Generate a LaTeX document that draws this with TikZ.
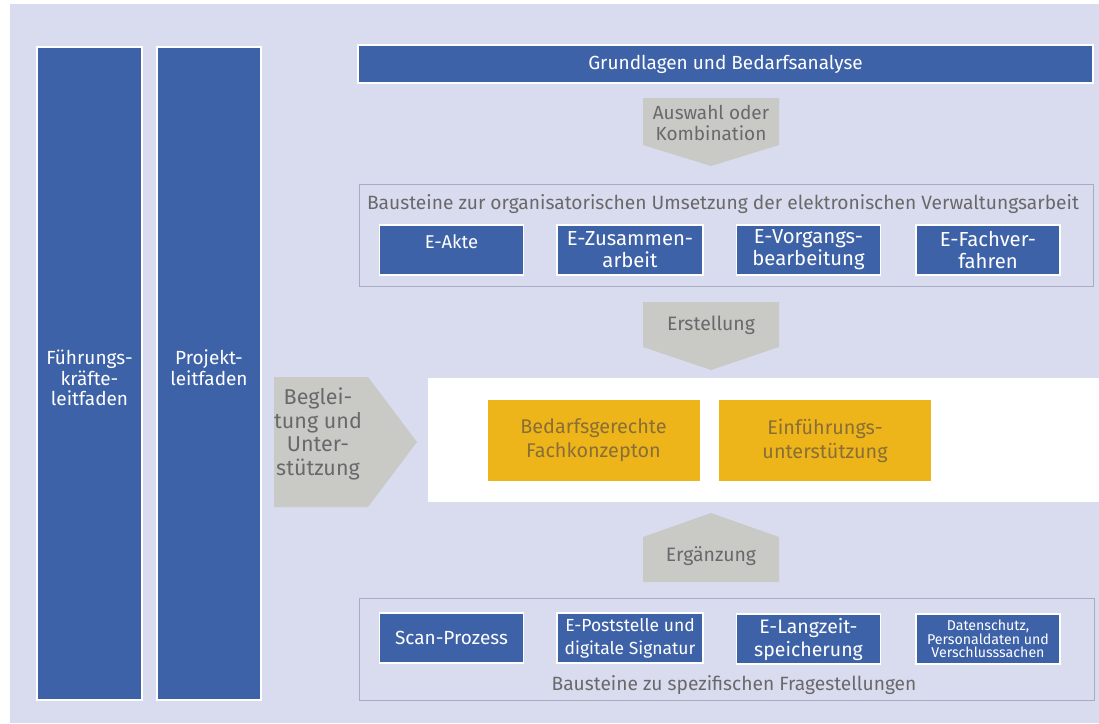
\documentclass[tikz,border=0pt]{standalone}
\usepackage{fontspec}
\setmainfont{Fira Sans}
\definecolor{bg}{HTML}{D9DCEE}
\definecolor{bblue}{HTML}{3E62A8}
\definecolor{agray}{HTML}{C9C9C6}
\definecolor{orng}{HTML}{EDB51A}
\definecolor{otext}{HTML}{8A6E38}
\definecolor{gtext}{HTML}{69696B}
\definecolor{frame}{HTML}{A9ABC2}
\newcommand{\fsz}[2]{\fontsize{#1pt}{#2pt}\selectfont}
\tikzset{
  bluebox/.style={fill=bblue, draw=white, line width=1.2pt, inner sep=0pt, text=white, align=center},
  orangebox/.style={fill=orng, draw=none, inner sep=0pt, text=otext, align=center},
  graytxt/.style={text=gtext, align=center, inner sep=0pt},
  whitetxt/.style={text=white, align=center, inner sep=0pt},
  container/.style={draw=frame, line width=0.9pt, fill=none, inner sep=0pt},
  blockarrow/.style={fill=agray, draw=none},
}
\begin{document}
\begin{tikzpicture}[x=1pt,y=-1pt]
\useasboundingbox (0,0) rectangle (1099,723);
\fill[white] (0,0) rectangle (1099,723);
\fill[bg] (10,4) rectangle (1099,723);

% left bars
\node[bluebox, minimum width=105pt, minimum height=653pt] (fk) at (89.5,373.5) {};
\node[bluebox, minimum width=104pt, minimum height=653pt] (pl) at (209,373.5) {};
\node[whitetxt, font=\fsz{19}{20.5}] (fkt) at (89.5,378) {Führungs-\\kräfte-\\leitfaden};
\node[whitetxt, font=\fsz{19}{20.5}] (plt) at (209,367.5) {Projekt-\\leitfaden};

% top bar
\node[bluebox, minimum width=735pt, minimum height=38pt, font=\fsz{19}{20}] (gb) at (725.5,64) {Grundlagen und Bedarfsanalyse};

% Auswahl arrow
\fill[blockarrow] (643,98) -- (779,98) -- (779,145) -- (711,166) -- (643,145) -- cycle;
\node[graytxt, font=\fsz{19}{21}] (aw) at (711,123) {Auswahl oder\\Kombination};

% top container
\node[container, minimum width=734pt, minimum height=102pt] (tc) at (726,235) {};
\node[graytxt, font=\fsz{19.2}{20}] (tcl) at (723,204) {Bausteine zur organisatorischen Umsetzung der elektronischen Verwaltungsarbeit};
\node[bluebox, minimum width=144pt, minimum height=50pt] (ea) at (451.5,250) {};
\node[whitetxt, font=\fsz{18.5}{22}] (eat) at (451.5,242) {E-Akte};
\node[bluebox, minimum width=146pt, minimum height=50pt, font=\fsz{20.3}{22}] (ez) at (630,250) {E-Zusammen-\\arbeit};
\node[bluebox, minimum width=144pt, minimum height=50pt, font=\fsz{20.3}{22}] (ev) at (808.5,250) {E-Vorgangs-\\bearbeitung};
\node[bluebox, minimum width=144pt, minimum height=50pt, font=\fsz{20.3}{22}] (ef) at (988,250) {E-Fachver-\\fahren};

% Erstellung arrow
\fill[blockarrow] (643,302) -- (779,302) -- (779,347) -- (711,370) -- (643,347) -- cycle;
\node[graytxt, font=\fsz{19.4}{20}] (er) at (711,325) {Erstellung};

% white band
\fill[white] (428,378) rectangle (1099,502);
\node[orangebox, minimum width=212pt, minimum height=81pt, font=\fsz{19.8}{24}] (bf) at (593.5,440.5) {Bedarfsgerechte\\Fachkonzepton};
\node[orangebox, minimum width=212pt, minimum height=81pt, font=\fsz{19.8}{24}] (eu) at (825,440.5) {Einführungs-\\unterstützung};

% Begleitung arrow
\fill[blockarrow] (274,377) -- (368,377) -- (417,442) -- (368,507) -- (274,507) -- cycle;
\node[graytxt, font=\fsz{21.5}{23.5}] (bg) at (318,434) {Beglei-\\tung und\\Unter-\\stützung};

% Ergaenzung arrow
\fill[blockarrow] (711,513) -- (779,537) -- (779,582) -- (643,582) -- (643,537) -- cycle;
\node[graytxt, font=\fsz{19.4}{20}] (eg) at (711,556) {Ergänzung};

% bottom container
\node[container, minimum width=735pt, minimum height=102pt] (bc) at (726.5,649) {};
\node[graytxt, font=\fsz{19.2}{20}] (bcl) at (734,685) {Bausteine zu spezifischen Fragestellungen};
\node[bluebox, minimum width=144pt, minimum height=50pt, font=\fsz{19}{22}] (sp) at (451.5,638) {Scan-Prozess};
\node[bluebox, minimum width=146pt, minimum height=50pt, font=\fsz{17.5}{23}] (ep) at (630,638) {E-Poststelle und\\digitale Signatur};
\node[bluebox, minimum width=144pt, minimum height=50pt, font=\fsz{19.5}{23}] (el) at (808.5,639) {E-Langzeit-\\speicherung};
\node[bluebox, minimum width=144pt, minimum height=50pt, font=\fsz{14.2}{13.5}] (ds) at (988,639) {Datenschutz,\\Personaldaten und\\Verschlusssachen};
\end{tikzpicture}
\end{document}
